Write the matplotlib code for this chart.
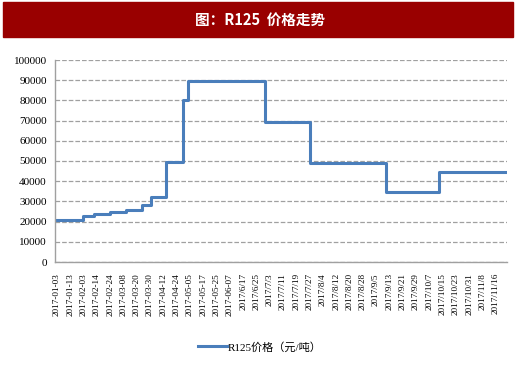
import matplotlib.pyplot as plt
from matplotlib.patches import Rectangle

plt.rcParams['font.family'] = ['Liberation Serif', 'Noto Sans CJK SC']

# etiquetas do eixo x (uma a cada grupo de pregões)
rotulos = ['2017-01-03', '2017-01-13', '2017-02-03', '2017-02-14', '2017-02-24',
           '2017-03-08', '2017-03-20', '2017-03-30', '2017-04-12', '2017-04-24',
           '2017-05-05', '2017-05-17', '2017-05-25', '2017-06-07', '2017/6/17',
           '2017/6/25', '2017/7/3', '2017/7/11', '2017/7/19', '2017/7/27',
           '2017/8/4', '2017/8/12', '2017/8/20', '2017/8/28', '2017/9/5',
           '2017/9/13', '2017/9/21', '2017/9/29', '2017/10/7', '2017/10/15',
           '2017/10/23', '2017/10/31', '2017/11/8', '2017/11/16']

# degraus do preço (posição em unidades de rótulo, valor)
pos_degrau = [0, 2.1, 2.95, 4.14, 5.32, 6.56, 7.2, 8.35, 9.65, 10.02,
              15.79, 19.17, 24.89, 28.87, 34]
preco = [21000, 23000, 24000, 25000, 25500, 28000, 32000, 49500, 80000, 89500,
         69500, 48800, 34500, 44500, 44500]

fig = plt.figure(figsize=(5.2, 3.66), dpi=100)

# faixa do título
fig.patches.append(Rectangle((3 / 520, 1 - 37 / 366), 510 / 520, 35 / 366,
                             transform=fig.transFigure, color='#990000', zorder=0))
fig.text(0.5, 1 - 19.5 / 366, '图：R125  价格走势', color='white', fontsize=10.5,
         fontweight='bold', ha='center', va='center',
         family=['Noto Sans CJK SC', 'Liberation Serif'])

ax = fig.add_axes([55 / 520, 1 - 262 / 366, 452 / 520, 202 / 366])
ax.step(pos_degrau, preco, where='post', color='#4a7ebb', lw=2.2,
        label='R125价格（元/吨）')

ax.set_xlim(0, 34)
ax.set_ylim(0, 100000)
ax.set_yticks(range(0, 100001, 10000))
ax.set_xticks([i + 0.15 for i in range(len(rotulos))])
ax.set_xticklabels(rotulos, rotation=90, fontsize=6.6)
ax.tick_params(axis='y', labelsize=8, length=0, pad=6)
ax.tick_params(axis='x', length=0, pad=8)
ax.yaxis.grid(True, ls='--', color='#a0a0a0', lw=0.9)
ax.set_axisbelow(True)
for s in ['top', 'right']:
    ax.spines[s].set_visible(False)
for s in ['left', 'bottom']:
    ax.spines[s].set_color('#a0a0a0')
    ax.spines[s].set_linewidth(1.0)

ax.legend(loc='center', bbox_to_anchor=(0.5, 1 - 347 / 366), bbox_transform=fig.transFigure,
          frameon=False, handlelength=2.6, handletextpad=0.1,
          prop={'family': ['Liberation Serif', 'Noto Sans CJK SC'], 'size': 8})

fig.savefig('out.png', dpi=100)
